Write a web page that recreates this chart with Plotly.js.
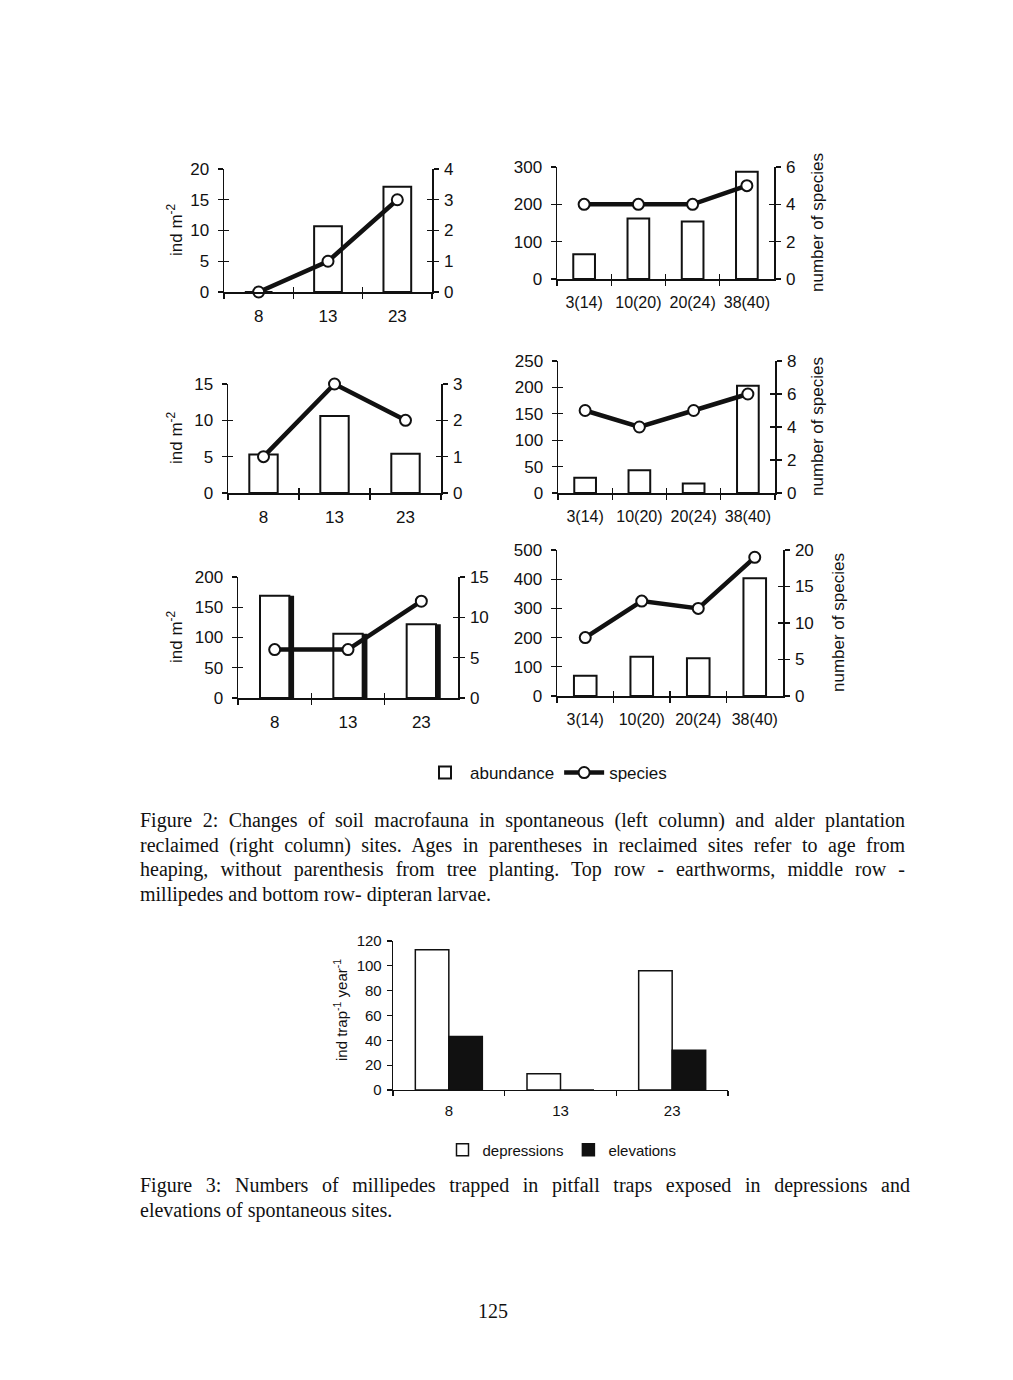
<!DOCTYPE html>
<html>
<head>
<meta charset="utf-8">
<script src="https://cdn.plot.ly/plotly-3.0.1.min.js"></script>
<style>
  html, body { margin: 0; padding: 0; background: #fff; }
  #page { position: relative; width: 1013px; height: 1380px; overflow: hidden; background: #fff; }
  #plot { position: absolute; left: 0; top: 0; width: 1013px; height: 1380px; }
  .cap { position: absolute; font-family: 'Liberation Serif', 'Times New Roman', serif; font-size: 20px; color: #111; line-height: 24.5px; }
  .cap div { height: 24.5px; }
  .j { text-align: justify; text-align-last: justify; }
  .pg { position: absolute; font-family: 'Liberation Serif', serif; font-size: 20px; color: #111; }
</style>
</head>
<body>
<div id="page">
  <div id="plot"></div>
  <div class="cap" style="left:140px; top:808px; width:765px;">
    <div class="j">Figure 2: Changes of soil macrofauna in spontaneous (left column) and alder plantation</div>
    <div class="j">reclaimed (right column) sites. Ages in parentheses in reclaimed sites refer to age from</div>
    <div class="j">heaping, without parenthesis from tree planting. Top row - earthworms, middle row -</div>
    <div>millipedes and bottom row- dipteran larvae.</div>
  </div>
  <div class="cap" style="left:140px; top:1173px; width:770px;">
    <div class="j">Figure 3: Numbers of millipedes trapped in pitfall traps exposed in depressions and</div>
    <div>elevations of spontaneous sites.</div>
  </div>
  <div class="pg" style="left:478px; top:1300px;">125</div>
</div>
<script>
// ---------------- DATA ----------------
const ageSpont = ['8', '13', '23'];
const ageReclaimed = ['3(14)', '10(20)', '20(24)', '38(40)'];

const earthwormSpontAbund = [0, 10.7, 17.1];
const earthwormSpontSpecies = [0, 1, 3];
const earthwormReclAbund = [66, 162, 154, 287];
const earthwormReclSpecies = [4, 4, 4, 5];

const millipedeSpontAbund = [5.3, 10.6, 5.4];
const millipedeSpontSpecies = [1, 3, 2];
const millipedeReclAbund = [29, 43, 18, 203];
const millipedeReclSpecies = [5, 4, 5, 6];

const dipteraSpontAbund = [169, 106, 122];
const dipteraSpontSpecies = [6, 6, 12];
const dipteraReclAbund = [69, 134, 129, 403];
const dipteraReclSpecies = [8, 13, 12, 19];

const trapSites = ['8', '13', '23'];
const trapDepressions = [113, 13, 96];
const trapElevations = [43, 0, 32];

// ---------------- LAYOUT CONFIG ----------------
const W = 1013, H = 1380;
const FONT = 'Liberation Sans, Arial, sans-serif';
const INK = '#111';

const panels = [
  {cats: ageSpont,     abund: earthwormSpontAbund, spec: earthwormSpontSpecies, px: [224, 432], py: [169, 292], lr: [0, 20],  ld: 5,   rr: [0, 4],  rd: 1, title: 'left',  tx: 175, ty: 230, fs: 17},
  {cats: ageReclaimed, abund: earthwormReclAbund,  spec: earthwormReclSpecies,  px: [557, 774], py: [167, 279], lr: [0, 300], ld: 100, rr: [0, 6],  rd: 2, title: 'right', tx: 817, ty: 223, fs: 16},
  {cats: ageSpont,     abund: millipedeSpontAbund, spec: millipedeSpontSpecies, px: [228, 441], py: [384, 493], lr: [0, 15],  ld: 5,   rr: [0, 3],  rd: 1, title: 'left',  tx: 175, ty: 438, fs: 17},
  {cats: ageReclaimed, abund: millipedeReclAbund,  spec: millipedeReclSpecies,  px: [558, 775], py: [361, 493], lr: [0, 250], ld: 50,  rr: [0, 8],  rd: 2, title: 'right', tx: 818, ty: 427, fs: 16},
  {cats: ageSpont,     abund: dipteraSpontAbund,   spec: dipteraSpontSpecies,   px: [238, 458], py: [577, 698], lr: [0, 200], ld: 50,  rr: [0, 15], rd: 5, title: 'left',  tx: 175, ty: 637, fs: 17, shadow: true},
  {cats: ageReclaimed, abund: dipteraReclAbund,    spec: dipteraReclSpecies,    px: [557, 783], py: [550, 696], lr: [0, 500], ld: 100, rr: [0, 20], rd: 5, title: 'right', tx: 838, ty: 623, fs: 16}
];

const axKey = (p, n) => n === 1 ? p + 'axis' : p + 'axis' + n;
const axRef = (p, n) => n === 1 ? p : p + n;
const xd = (a, b) => [a / W, b / W];
const yd = (top, bottom) => [1 - bottom / H, 1 - top / H];

const traces = [];
const layout = {
  width: W, height: H,
  margin: {l: 0, r: 0, t: 0, b: 0},
  paper_bgcolor: '#fff', plot_bgcolor: 'rgba(0,0,0,0)',
  barmode: 'overlay',
  font: {family: FONT, color: INK},
  showlegend: true,
  annotations: [],
  legend: {
    x: 546 / W, y: 1 - 773 / H, xanchor: 'center', yanchor: 'middle',
    orientation: 'h', font: {size: 17, family: FONT, color: INK},
    bgcolor: 'rgba(0,0,0,0)', traceorder: 'normal', itemwidth: 40
  },
  legend2: {
    x: 562 / W, y: 1 - 1150 / H, xanchor: 'center', yanchor: 'middle',
    orientation: 'h', font: {size: 15, family: FONT, color: INK},
    bgcolor: 'rgba(0,0,0,0)', traceorder: 'normal', itemwidth: 30
  }
};

const baseAx = {showgrid: false, zeroline: false, linecolor: INK, tickcolor: INK, fixedrange: true};
const tickOnly = {showticklabels: false, showline: false, ticks: 'inside', ticklen: 5, tickwidth: 1.3};
const ghost = {type: 'scatter', mode: 'markers', marker: {opacity: 0, size: 1}, showlegend: false, hoverinfo: 'skip'};

panels.forEach((p, i) => {
  // main axes
  const xm = i * 3 + 1, xB = i * 3 + 2, xC = i * 3 + 3;
  const yl = i * 4 + 1, yr = i * 4 + 2, yB = i * 4 + 3, yC = i * 4 + 4;
  const n = p.cats.length;
  const xDom = xd(p.px[0], p.px[1]);
  const yDom = yd(p.py[0], p.py[1]);
  const bounds = p.cats.map((_, k) => k - 0.5).concat([n - 0.5]);

  layout[axKey('x', xm)] = Object.assign({}, baseAx, {
    domain: xDom, anchor: axRef('y', yl), type: 'category', range: [-0.5, n - 0.5],
    tickson: 'boundaries', ticks: 'outside', ticklen: 5, tickwidth: 1.3, tickangle: 0,
    showline: true, linewidth: 1.5, tickfont: {size: p.fs, family: FONT, color: INK},
    ticklabelstandoff: 8
  });
  layout[axKey('y', yl)] = Object.assign({}, baseAx, {
    domain: yDom, anchor: axRef('x', xm), range: p.lr, dtick: p.ld, tick0: 0,
    ticks: 'outside', ticklen: 5, tickwidth: 1.3, showline: true, linewidth: 1.5,
    tickfont: {size: 17, family: FONT, color: INK}, ticklabelstandoff: 5
  });
  layout[axKey('y', yr)] = Object.assign({}, baseAx, {
    domain: yDom, anchor: axRef('x', xm), overlaying: axRef('y', yl), side: 'right',
    range: p.rr, dtick: p.rd, tick0: 0, ticks: 'outside', ticklen: 5, tickwidth: 1.3,
    showline: true, linewidth: 1.5, tickfont: {size: 17, family: FONT, color: INK},
    ticklabelstandoff: 2
  });

  // independent tick-only subplots stacked on the same area -> crossing ticks
  layout[axKey('x', xB)] = Object.assign({}, baseAx, tickOnly, {
    domain: xDom, anchor: axRef('y', yB), type: 'linear', range: [-0.5, n - 0.5],
    tickmode: 'array', tickvals: bounds
  });
  layout[axKey('y', yB)] = Object.assign({}, baseAx, tickOnly, {
    domain: yDom, anchor: axRef('x', xB), side: 'left', range: p.lr, dtick: p.ld, tick0: 0
  });
  layout[axKey('x', xC)] = Object.assign({}, baseAx, {
    domain: xDom, anchor: axRef('y', yC), type: 'linear', range: [-0.5, n - 0.5],
    showticklabels: false, showline: false, ticks: ''
  });
  layout[axKey('y', yC)] = Object.assign({}, baseAx, tickOnly, {
    domain: yDom, anchor: axRef('x', xC), side: 'right', range: p.rr, dtick: p.rd, tick0: 0
  });
  traces.push(Object.assign({}, ghost, {x: [bounds[0]], y: [p.lr[0]], xaxis: axRef('x', xB), yaxis: axRef('y', yB)}));
  traces.push(Object.assign({}, ghost, {x: [bounds[0]], y: [p.rr[0]], xaxis: axRef('x', xC), yaxis: axRef('y', yC)}));

  if (p.shadow) {
    traces.push({
      type: 'bar', x: p.cats, y: p.abund, xaxis: axRef('x', xm), yaxis: axRef('y', yl),
      width: 0.4, offset: -0.2 + 0.065, marker: {color: INK, line: {width: 0}},
      showlegend: false, hoverinfo: 'skip'
    });
  }
  traces.push({
    type: 'bar', name: 'abundance', x: p.cats, y: p.abund, xaxis: axRef('x', xm), yaxis: axRef('y', yl),
    width: 0.4, offset: -0.2, marker: {color: '#fff', line: {color: INK, width: 2}},
    showlegend: i === 0, legend: 'legend'
  });
  traces.push({
    type: 'scatter', mode: 'lines+markers', name: 'species', x: p.cats, y: p.spec,
    xaxis: axRef('x', xm), yaxis: axRef('y', yr), cliponaxis: false,
    line: {color: INK, width: 4.5},
    marker: {size: 11, color: '#fff', line: {color: INK, width: 2}},
    showlegend: i === 0, legend: 'legend'
  });

  layout.annotations.push({
    xref: 'paper', yref: 'paper', x: p.tx / W, y: 1 - p.ty / H, xanchor: 'center', yanchor: 'middle',
    text: p.title === 'left' ? 'ind m<sup>-2</sup>' : 'number of species', textangle: -90,
    showarrow: false, font: {size: 17, family: FONT, color: INK}
  });
});

// ---------------- FIGURE 3 ----------------
layout.xaxis19 = Object.assign({}, baseAx, {
  domain: xd(393, 728), anchor: 'y25', type: 'category', range: [-0.5, trapSites.length - 0.5],
  tickson: 'boundaries', ticks: 'outside', ticklen: 5, tickwidth: 1.2, showline: true, linewidth: 1.3,
  tickangle: 0, tickfont: {size: 15, family: FONT, color: INK}, ticklabelstandoff: 7
});
layout.yaxis25 = Object.assign({}, baseAx, {
  domain: yd(941, 1090), anchor: 'x19', range: [0, 120], dtick: 20, tick0: 0,
  ticks: 'outside', ticklen: 5, tickwidth: 1.2, showline: true, linewidth: 1.3,
  tickfont: {size: 15, family: FONT, color: INK}, ticklabelstandoff: 2
});
traces.push({
  type: 'bar', name: 'depressions', x: trapSites, y: trapDepressions, xaxis: 'x19', yaxis: 'y25',
  width: 0.3, offset: -0.3, marker: {color: '#fff', line: {color: INK, width: 1.5}}, legend: 'legend2'
});
traces.push({
  type: 'bar', name: 'elevations', x: trapSites, y: trapElevations, xaxis: 'x19', yaxis: 'y25',
  width: 0.3, offset: 0, marker: {color: INK, line: {color: INK, width: 1.5}}, legend: 'legend2'
});
layout.annotations.push({
  xref: 'paper', yref: 'paper', x: 340 / W, y: 1 - 1010 / H, xanchor: 'center', yanchor: 'middle',
  text: 'ind trap<sup>-1</sup> year<sup>-1</sup>', textangle: -90, showarrow: false,
  font: {size: 15, family: FONT, color: INK}
});

Plotly.newPlot('plot', traces, layout, {staticPlot: true, displayModeBar: false});
</script>
</body>
</html>
